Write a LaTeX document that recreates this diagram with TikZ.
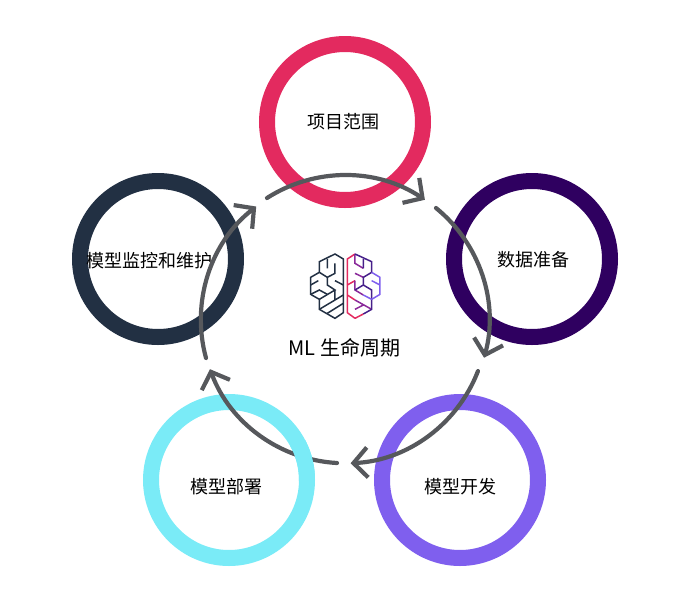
\documentclass[tikz,border=0pt]{standalone}
\usepackage{fontspec}
\setmainfont{Noto Sans CJK SC}
\usetikzlibrary{arrows.meta}
\definecolor{cRed}{HTML}{E32A5F}
\definecolor{cNavy}{HTML}{2F0060}
\definecolor{cPurple}{HTML}{7F5FEE}
\definecolor{cCyan}{HTML}{7AEBF7}
\definecolor{cSlate}{HTML}{223043}
\definecolor{cArrow}{HTML}{56585C}
\definecolor{cMid}{HTML}{8A2A9A}
\definecolor{cDeep}{HTML}{46208A}
\begin{document}
\begin{tikzpicture}[x=1pt,y=-1pt,
  ring/.style={circle,draw=#1,line width=16pt,minimum size=156pt,inner sep=0pt},
  lab/.style={font=\fontsize{18}{21}\selectfont,text=black,inner sep=0pt},
  cyc/.style={draw=cArrow,line width=4.2pt,line cap=round,line join=round,-{Straight Barb[length=14pt,width=30pt,line width=4.2pt]}},
  br/.style={line width=1.5pt,line join=miter,line cap=butt}]
\useasboundingbox (0,0) rectangle (678,595);
\node[ring=cRed] (a) at (345,122) {};
\node[ring=cNavy] (b) at (532,259) {};
\node[ring=cPurple] (c) at (460,480) {};
\node[ring=cCyan] (d) at (229,480) {};
\node[ring=cSlate] (e) at (158,259) {};
\node[lab] (la) at (343.5,122) {项目范围};
\node[lab] (lb) at (533,260) {数据准备};
\node[lab] (lc) at (460,487) {模型开发};
\node[lab] (ld) at (226.5,487) {模型部署};
\node[lab] (le) at (149,261) {模型监控和维护};
\node[font=\fontsize{20}{23}\selectfont,inner sep=0pt] (t) at (344.5,348) {ML 生命周期};
\coordinate (a1) at (267,198);
\coordinate (b1) at (436,208);
\coordinate (c1) at (478,371);
\coordinate (d1) at (337,463);
\coordinate (e1) at (206,358);
\draw[cyc] (a1) arc[start angle=122.6,end angle=56.1,radius=144pt];
\draw[cyc] (b1) arc[start angle=50.9,end angle=-15.3,radius=144pt];
\draw[cyc] (c1) arc[start angle=-21,end angle=-87.2,radius=144pt];
\draw[cyc] (d1) arc[start angle=-93.2,end angle=-159.7,radius=144pt];
\draw[cyc] (e1) arc[start angle=-164.7,end angle=-232,radius=144pt];
% the ring that lies over the arrow
\begin{scope}
\clip (290,440) rectangle (345,480);
\node[ring=cCyan] at (229,480) {};
\end{scope}
% brain
\begin{scope}[shift={(290,240)},x=0.3333pt,y=-0.3333pt]
\draw[br,cSlate] (135,42)--(160,57)--(160,218)--(135,235)--(88,208)--(88,178)--(62,163)--(62,112)--(88,97)--(88,65)--cycle;
\draw[br,cSlate] (112,57)--(112,85) (135,70)--(135,100)--(112,112)--(88,97);
\draw[br,cSlate] (62,135)--(85,122) (112,112)--(112,135)--(135,150)--(88,178);
\draw[br,cSlate] (135,122)--(160,135) (62,163)--(88,150)--(112,163);
\draw[br,cSlate] (135,150)--(135,180)--(88,208) (160,165)--(135,180) (160,190)--(112,220);
\draw[br,cRed] (195,42)--(172,57)--(172,218)--(195,235);
\draw[br,cRed] (172,135)--(195,122) (172,165)--(195,180) (195,235)--(220,222);
\draw[br,cMid] (195,42)--(195,70)--(220,85) (195,100)--(220,112) (195,122)--(195,150)--(220,165) (195,180)--(245,208) (195,208)--(220,195);
\draw[br,cDeep] (195,42)--(245,65)--(245,97)--(220,112)--(220,135)--(195,150) (220,57)--(220,85) (220,135)--(245,150)--(245,178) (220,222)--(245,208)--(245,178);
\draw[br,cPurple] (245,97)--(270,112)--(270,163)--(245,178) (245,122)--(270,135) (220,165)--(245,178);
\end{scope}
\end{tikzpicture}
\end{document}
